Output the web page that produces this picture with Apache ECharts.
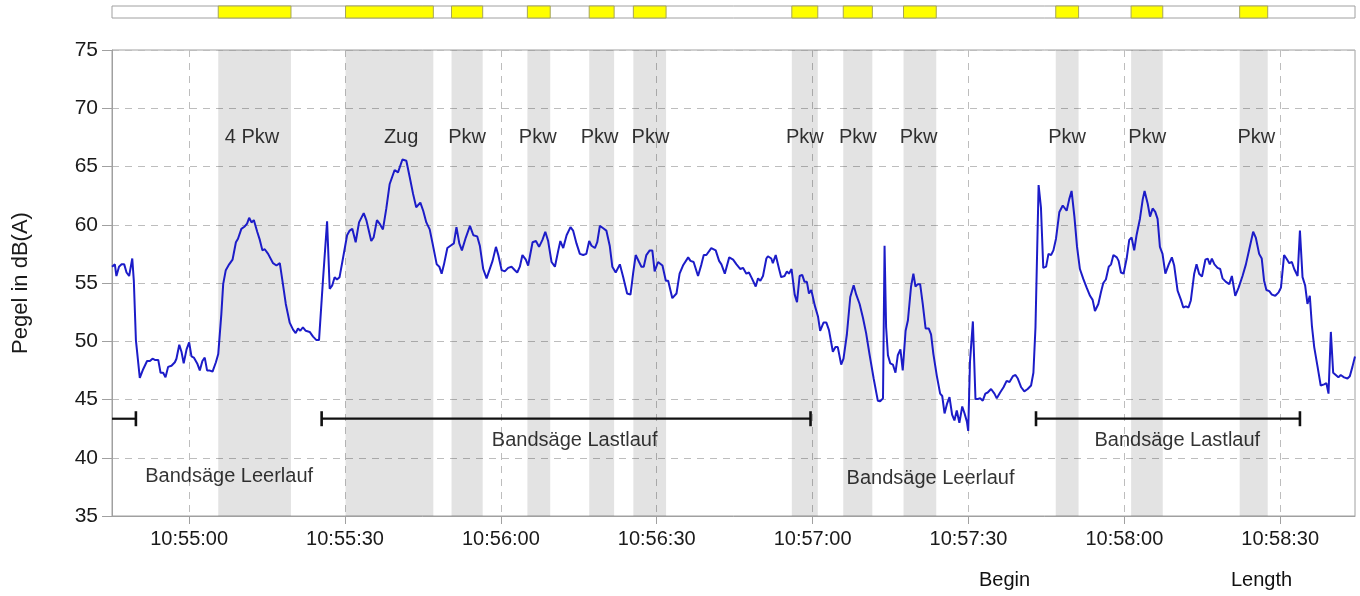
<!DOCTYPE html>
<html>
<head>
<meta charset="utf-8">
<script src="https://cdn.jsdelivr.net/npm/echarts@6/dist/echarts.min.js"></script>
<style>
html,body{margin:0;padding:0;background:#fff;}
#c{width:1360px;height:596px;}
</style>
</head>
<body>
<div id="c"></div>
<script>
// time in seconds relative to 10:55:00
const times = [-14.85,-14.7,-14.3,-14.0,-13.5,-13.0,-12.5,-12.05,-11.55,-10.95,-10.65,-10.25,-9.5,-8.85,-8.1,-7.55,-7.05,-6.6,-5.95,-5.5,-5.0,-4.55,-4.05,-3.4,-2.75,-2.45,-1.9,-1.45,-1.05,-0.5,0,0.45,0.9,1.55,2.05,2.55,3.0,3.45,3.85,4.5,5.15,5.6,6.2,6.55,7.05,7.7,8.35,9.0,9.4,10.05,10.7,11.15,11.55,12.0,12.45,13.1,13.6,14.1,14.55,15.2,16.15,16.8,17.45,17.95,18.6,19.35,20.0,20.5,20.95,21.4,21.9,22.45,23.2,23.85,24.5,25.0,25.75,26.55,27.05,27.55,28.0,28.45,28.95,29.6,30.4,30.9,31.4,32.05,32.7,33.6,34.1,35.05,35.5,36.15,36.65,37.3,37.95,38.6,39.55,40.2,41.05,41.8,42.45,43.1,43.7,44.5,45.05,45.65,46.3,46.85,47.65,48.15,48.6,49.05,49.7,50.3,50.95,51.45,52.0,52.5,53.25,54.05,54.7,55.45,55.95,56.6,57.25,57.55,58.4,59.05,59.5,60.15,60.75,61.4,62.05,62.7,63.15,63.65,64.15,64.8,65.25,66.1,66.75,67.35,68.0,68.55,69.1,69.75,70.4,71.05,71.45,72.0,72.65,73.4,73.9,74.55,75.2,75.85,76.45,77.0,77.45,78.1,78.55,79.05,79.7,80.3,80.95,81.45,82.1,82.9,83.55,84.3,84.95,85.45,85.95,86.6,87.05,87.5,88.0,88.65,89.15,89.6,90.25,91.1,91.75,92.2,93.0,93.8,94.4,95.05,96.05,96.5,97.1,97.95,98.6,99.05,99.55,100.5,101.35,102.0,102.45,103.1,103.95,104.7,105.35,106.1,106.6,107.25,107.75,108.2,109.05,109.5,109.95,110.45,111.1,111.4,112.05,112.35,112.9,113.55,113.95,114.6,115.05,115.45,115.95,116.55,117.0,117.5,118.0,118.45,118.9,119.3,119.75,120.4,121.05,121.45,122.1,122.65,123.15,123.9,124.4,124.85,125.5,125.95,126.6,127.25,127.9,128.4,129.05,129.7,130.3,130.95,131.75,132.55,133.0,133.55,133.85,134.15,134.5,134.95,135.45,135.95,136.4,136.9,137.35,137.9,138.35,138.95,139.4,139.8,140.25,140.7,141.2,141.75,142.35,142.8,143.25,143.9,144.55,144.95,145.4,145.85,146.35,146.85,147.3,147.75,148.25,148.8,149.25,149.7,149.95,150.3,150.85,151.35,151.8,152.25,152.75,153.25,153.7,154.35,155.0,155.45,156.1,156.75,157.35,157.9,158.55,159.05,159.5,160.15,160.75,161.4,162.05,162.5,162.9,163.5,163.95,164.4,164.95,165.4,165.9,166.35,166.85,167.5,168.15,168.9,169.4,169.85,170.4,170.9,171.45,172.1,172.75,173.4,173.9,174.35,175.0,175.5,175.95,176.45,177.0,177.45,177.9,178.55,178.9,179.35,179.85,180.45,180.95,181.4,181.9,182.35,183.0,183.55,183.9,184.5,184.95,185.45,185.95,186.4,186.85,187.35,187.9,188.55,189.15,189.6,190.25,190.9,191.35,191.85,192.35,192.8,193.45,193.9,194.4,194.95,195.6,196.05,196.45,196.85,197.35,197.95,198.45,198.9,199.55,200.2,200.7,201.35,202.0,202.75,203.4,204.05,204.8,205.3,205.95,206.45,206.9,207.35,207.9,208.4,209.05,209.7,210.15,210.75,211.2,211.75,212.25,212.7,213.35,213.8,214.3,214.8,215.25,215.7,216.1,216.55,217.2,217.8,218.45,218.9,219.3,219.75,220.2,220.7,221.2,221.65,222.3,222.95,223.4,223.9,224.4];
const levels = [56.4,56.5,56.6,55.6,56.4,56.6,56.6,55.9,55.6,57.1,55.2,50.1,46.85,47.6,48.3,48.3,48.5,48.4,48.4,47.3,47.3,46.9,47.8,47.9,48.2,48.5,49.7,49.05,48.1,49.3,49.9,48.7,48.6,48.1,47.5,48.3,48.6,47.5,47.5,47.4,48.2,48.9,52.35,54.9,56.1,56.6,57.0,58.5,58.8,59.65,59.85,60.1,60.6,60.2,60.4,59.4,58.7,57.8,57.9,57.5,56.7,56.5,56.7,55.2,53.2,51.6,51.0,50.7,51.1,50.9,51.2,50.9,50.8,50.4,50.1,50.1,55.2,60.3,54.5,54.8,55.5,55.3,55.5,57.1,59.1,59.5,59.65,58.5,60.2,61.0,60.4,58.6,58.9,60.4,60.1,59.6,61.4,63.5,64.7,64.5,65.6,65.5,64.1,62.65,61.5,61.9,61.2,60.2,59.6,58.4,56.6,56.4,55.8,56.6,58.0,58.2,58.4,59.8,58.4,57.8,58.9,59.9,59.1,59.0,58.2,56.2,55.4,55.4,56.9,58.1,57.4,56.1,56.0,56.3,56.4,56.1,55.9,56.4,57.4,57.0,56.5,58.5,58.6,58.1,58.7,59.4,58.6,56.8,56.4,57.8,58.6,58.0,59.1,59.8,59.5,58.4,57.5,57.4,57.5,58.6,58.2,58.0,58.5,59.9,59.7,59.5,58.2,56.4,55.9,56.6,55.5,54.1,54.0,55.8,57.4,56.8,56.4,56.4,57.4,57.8,57.8,56.0,56.8,56.5,55.2,55.2,53.7,54.1,55.8,56.5,57.2,56.9,56.8,55.6,56.6,57.4,57.4,58.0,57.8,56.9,56.6,55.8,57.2,57.0,56.6,56.2,56.3,55.8,55.9,55.5,54.7,55.4,55.2,55.6,57.1,57.3,57.1,56.7,57.4,56.2,55.5,55.6,56.0,55.8,56.2,54.0,53.35,55.6,55.7,55.1,55.1,54.1,54.4,53.1,52.1,50.9,51.6,51.6,50.95,49.1,49.5,49.5,48.0,48.5,50.6,53.8,54.8,54.0,53.2,52.0,50.7,48.9,46.8,44.9,44.85,45.1,58.2,51.2,48.8,48.1,48.0,47.3,48.8,49.3,47.5,50.9,51.8,54.7,55.8,54.7,54.9,54.9,53.2,51.1,51.1,50.6,48.9,47.05,45.5,45.3,43.8,44.6,45.2,43.7,43.2,44.05,43.0,44.4,43.8,43.1,42.3,48.3,51.7,45.05,45.05,45.1,44.9,45.5,45.6,45.9,45.5,45.1,45.6,46.05,46.6,46.5,47.0,47.1,46.8,46.05,45.7,45.9,46.2,47.3,51.2,63.4,61.5,56.3,56.4,57.5,57.4,57.8,58.8,61.1,61.65,61.2,62.2,62.9,60.65,58.1,56.2,55.35,54.6,53.9,53.55,52.6,53.2,54.2,55.0,55.3,56.4,56.6,57.4,57.2,56.9,55.9,55.8,57.1,58.7,58.9,57.8,59.1,60.5,62.2,62.9,61.8,60.7,61.4,61.1,60.5,58.1,57.5,55.8,56.6,57.2,56.5,54.35,53.55,52.9,53.0,52.9,53.5,55.8,56.6,55.8,55.55,57.0,57.1,56.6,57.1,56.6,56.3,56.2,55.4,55.1,54.9,55.6,53.9,54.6,55.6,56.6,57.9,59.4,58.9,57.5,57.1,55.2,54.4,54.3,54.0,53.9,54.2,54.6,57.4,57.1,56.7,56.8,56.2,55.6,59.5,55.5,54.8,53.2,53.9,51.35,49.5,47.8,46.2,46.3,46.4,45.5,50.8,47.3,47.1,46.9,47.1,46.9,46.8,47.0,47.8,48.7];

// event bands (seconds)
const bandStart = [5.6,30.1,50.5,65.1,77.0,85.5,116.0,125.9,137.5,166.8,181.3,202.2];
const bandEnd   = [19.6,47.0,56.5,69.5,81.8,91.8,121.0,131.5,143.8,171.2,187.4,207.6];

// event labels
const eventNames = ['4 Pkw','Zug','Pkw','Pkw','Pkw','Pkw','Pkw','Pkw','Pkw','Pkw','Pkw','Pkw'];
const eventX = [12.1,40.8,53.5,67.1,79.0,88.8,118.5,128.7,140.4,169.0,184.4,205.4];
const eventY = 67.45;

// operating range bars
const rangeStart = [-14.85,25.5,163.0];
const rangeEnd   = [-10.25,119.6,213.8];
const rangeLevel = 43.35;
const rangeNames = ['Bandsäge Leerlauf','Bandsäge Lastlauf','Bandsäge Leerlauf','Bandsäge Lastlauf'];
const rangeLabelX = [7.7,74.2,142.7,190.2];
const rangeLabelY = [38.35,41.45,38.2,41.45];

// ticks
const tickSeconds = [0,30,60,90,120,150,180,210];

const X_MIN = -14.85, X_MAX = 224.4;
const FONT = '"Liberation Sans", Arial, sans-serif';

function fmtTime(v){
  let s = Math.round(10*3600 + 55*60 + v);
  const h = Math.floor(s/3600); s -= h*3600;
  const m = Math.floor(s/60); s -= m*60;
  const p = n => (n<10?'0':'')+n;
  return h+':'+p(m)+':'+p(s);
}

const lineData = times.map((t,i)=>[t,levels[i]]);

const rangeSeries = rangeStart.map((s,i)=>({
  type:'line', xAxisIndex:0, yAxisIndex:0,
  data:[{value:[s,rangeLevel], symbol: i===0?'none':'rect'},{value:[rangeEnd[i],rangeLevel]}],
  symbol:'rect', symbolSize:[2.6,15], showAllSymbol:true,
  lineStyle:{color:'#111',width:2.2}, itemStyle:{color:'#111'},
  silent:true, z:4, animation:false
}));

const labelStyle = {show:true, position:'inside', formatter:p=>p.name, fontSize:20, color:'#000',
  fontFamily:FONT, textBorderWidth:0, textBorderColor:'transparent'};

const chart = echarts.init(document.getElementById('c'), null, {renderer:'canvas'});
chart.setOption({
  animation:false,
  backgroundColor:'#fff',
  textStyle:{fontFamily:FONT},
  grid:[
    {left:112, right:5, top:50, bottom:80, show:true, borderColor:'#a0a0a0', borderWidth:1, backgroundColor:'transparent'},
    {left:112, right:5, top:6, height:12, show:true, borderColor:'#a0a0a0', borderWidth:1}
  ],
  xAxis:[
    {type:'value', gridIndex:0, min:X_MIN, max:X_MAX,
     axisLine:{show:true, onZero:false, lineStyle:{color:'#a0a0a0'}},
     axisTick:{show:true, customValues:tickSeconds, length:8, lineStyle:{color:'#a0a0a0'}},
     axisLabel:{customValues:tickSeconds, formatter:fmtTime, fontSize:20, color:'#1a1a1a', margin:13, fontFamily:FONT},
     splitLine:{show:true, lineStyle:{color:'#bdbdbd', type:[7,6], width:1}}},
    {type:'value', gridIndex:1, min:X_MIN, max:X_MAX, show:false}
  ],
  yAxis:[
    {type:'value', gridIndex:0, min:35, max:75, interval:5,
     name:'Pegel in dB(A)', nameLocation:'middle', nameGap:80, nameRotate:90,
     nameTextStyle:{fontSize:22, color:'#1a1a1a', fontFamily:FONT},
     axisLine:{show:true, onZero:false, lineStyle:{color:'#a0a0a0'}},
     axisTick:{show:true, length:10, lineStyle:{color:'#a0a0a0'}},
     axisLabel:{fontSize:21, color:'#1a1a1a', margin:14, fontFamily:FONT},
     splitLine:{show:true, lineStyle:{color:'#bdbdbd', type:[7,6], width:1}}},
    {type:'value', gridIndex:1, min:0, max:1, show:false}
  ],
  series:[
    {type:'line', xAxisIndex:0, yAxisIndex:0, data:lineData, symbol:'none',
     lineStyle:{color:'#1c1cc8', width:2}, z:3, silent:true,
     markArea:{silent:true, itemStyle:{color:'rgba(0,0,0,0.11)'},
       data: bandStart.map((s,i)=>[{xAxis:s},{xAxis:bandEnd[i]}])}},
    {type:'line', xAxisIndex:1, yAxisIndex:1, data:[[X_MIN,0.5]], symbol:'none', lineStyle:{opacity:0}, silent:true,
     markArea:{silent:true, itemStyle:{color:'#ffff00', borderColor:'#a5a55a', borderWidth:1},
       data: bandStart.map((s,i)=>[{xAxis:s},{xAxis:bandEnd[i]}])}},
    {type:'scatter', xAxisIndex:0, yAxisIndex:0, symbolSize:1, itemStyle:{color:'rgba(0,0,0,0)'}, silent:true, z:5,
     data: eventNames.map((n,i)=>({name:n, value:[eventX[i], eventY]})),
     label:labelStyle},
    {type:'scatter', xAxisIndex:0, yAxisIndex:0, symbolSize:1, itemStyle:{color:'rgba(0,0,0,0)'}, silent:true, z:5,
     data: rangeNames.map((n,i)=>({name:n, value:[rangeLabelX[i], rangeLabelY[i]]})),
     label:labelStyle},
    ...rangeSeries
  ],
  graphic:[
    {type:'text', left:1007-28, top:570, style:{text:'Begin', fontSize:20, fill:'#111', fontFamily:FONT}},
    {type:'text', left:1264-33, top:570, style:{text:'Length', fontSize:20, fill:'#111', fontFamily:FONT}}
  ]
});
</script>
</body>
</html>
